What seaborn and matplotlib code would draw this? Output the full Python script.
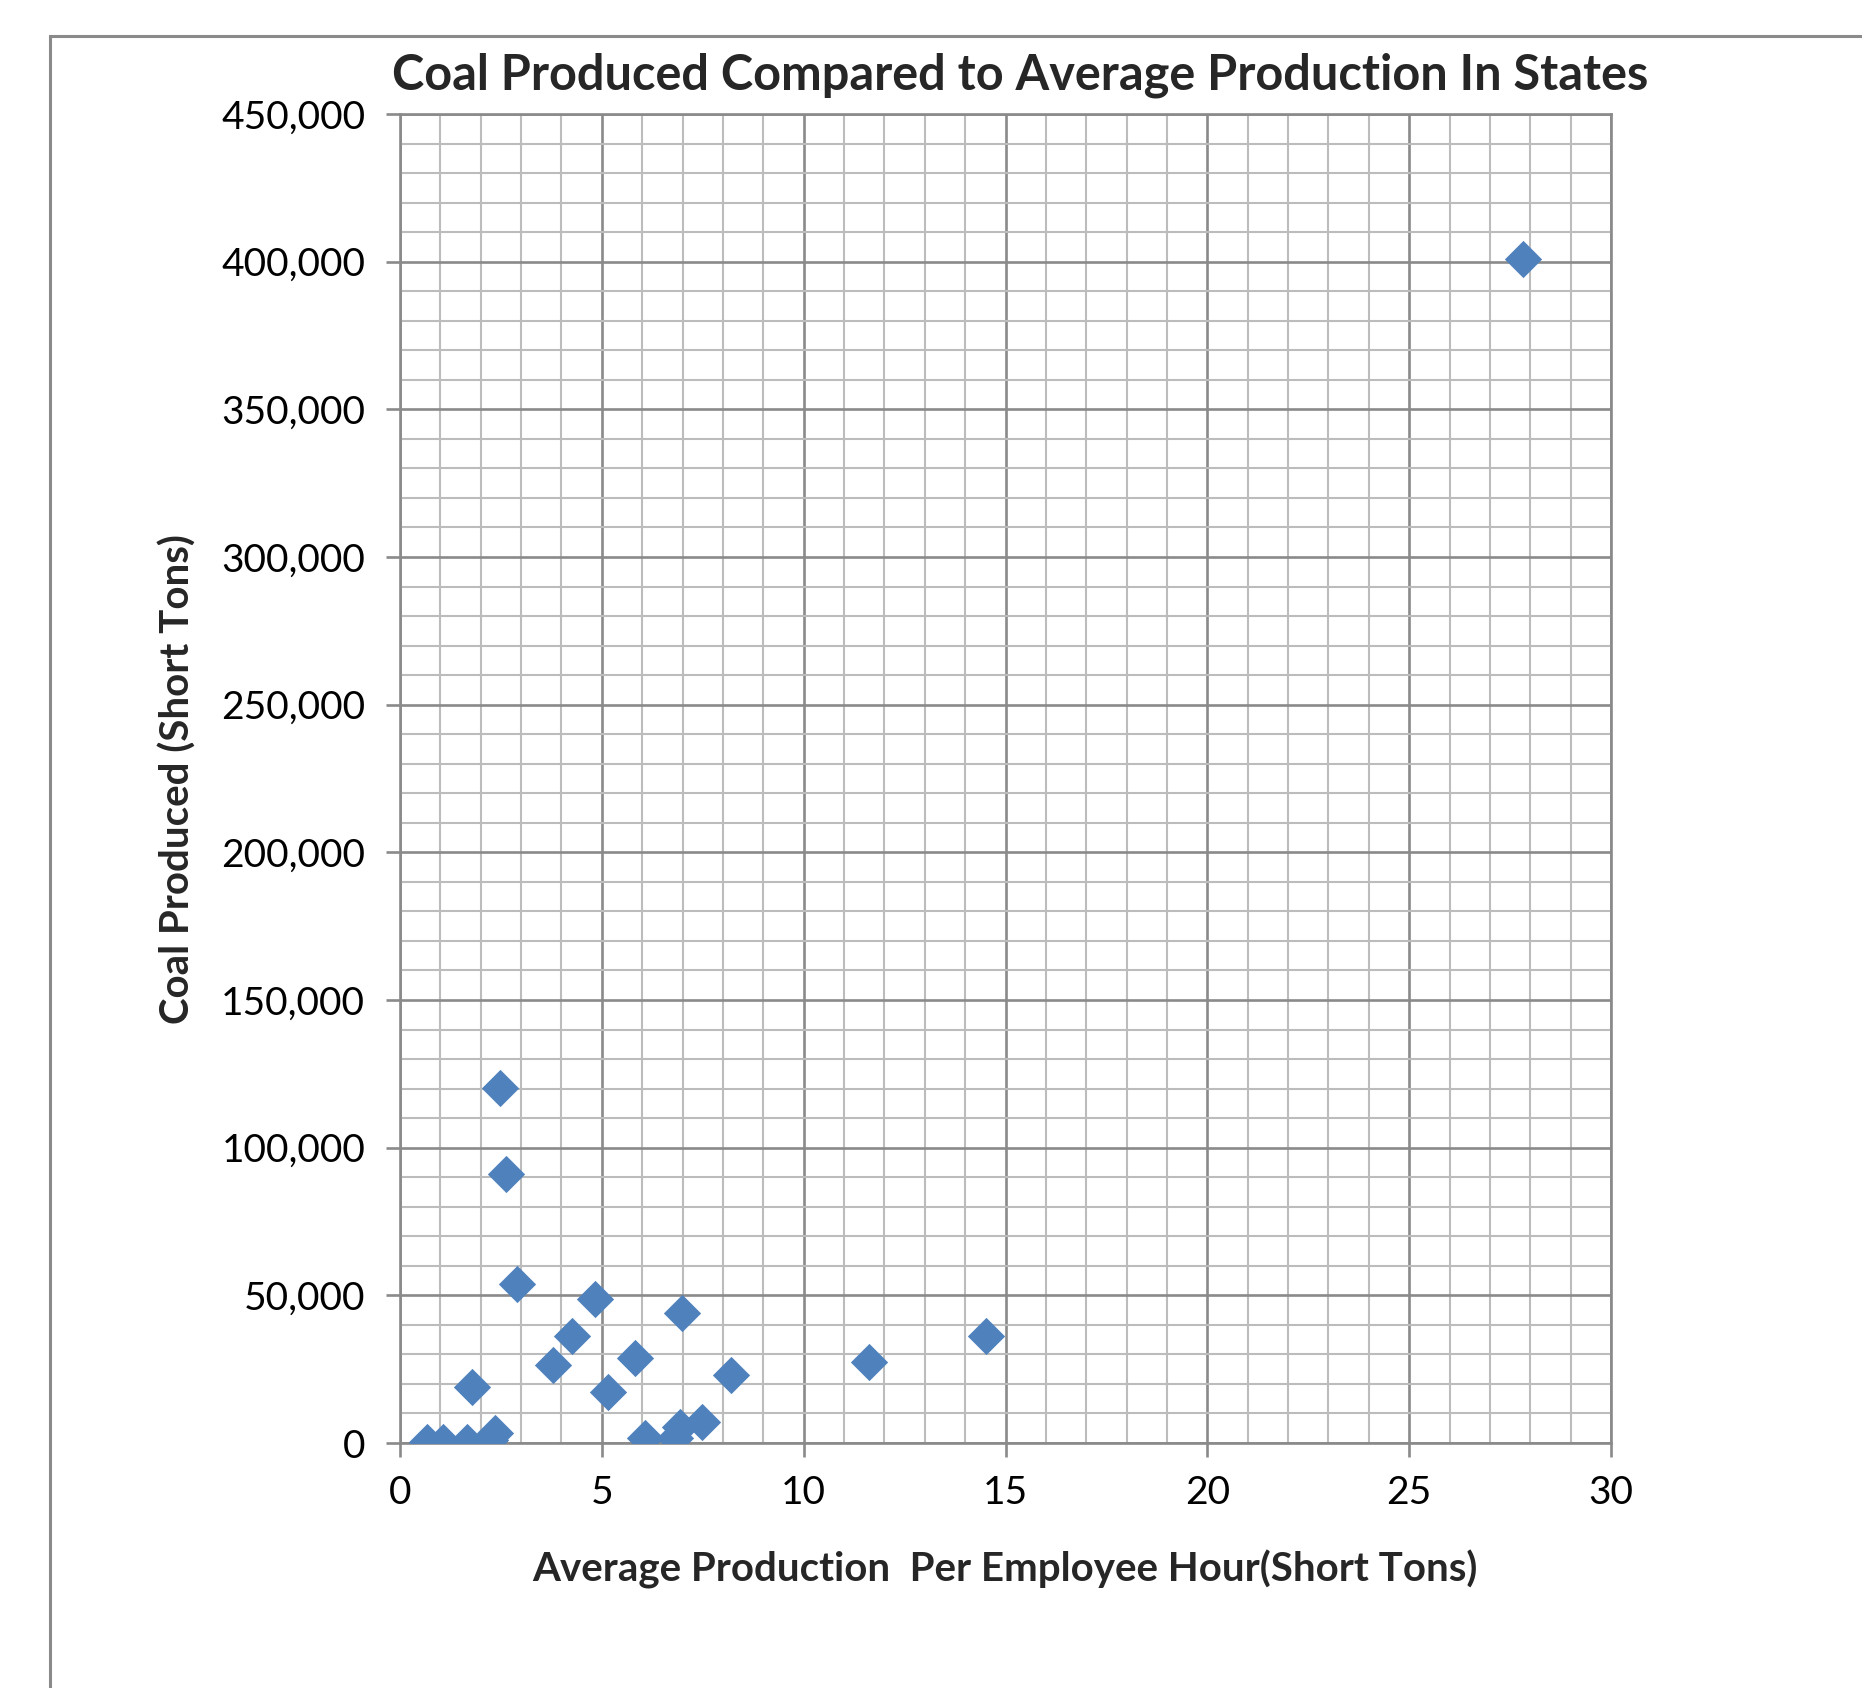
import matplotlib
matplotlib.use('Agg')
import pandas as pd
import matplotlib.pyplot as plt
from matplotlib.ticker import MultipleLocator, FuncFormatter
from matplotlib.patches import Rectangle
import seaborn as sns

# productia medie pe ora de angajat (short tons) si carbunele produs, pe state
productie_medie = [0.66, 1.07, 1.65, 1.78, 2.23, 2.35, 2.48, 2.63, 2.89, 3.78, 4.27, 4.83,
                   5.16, 5.82, 6.07, 6.81, 6.94, 6.98, 7.47, 8.20, 11.63, 14.51, 27.83]
carbune_produs = [400, 400, 400, 18800, 1000, 3300, 120200, 91000, 54000, 26400, 36300, 48600,
                  17400, 28700, 1600, 1600, 5500, 44100, 7200, 23000, 27500, 36200, 401000]

titlu = 'Coal Produced Compared to Average Production In States'
eticheta_x = 'Average Production  Per Employee Hour(Short Tons)'
eticheta_y = 'Coal Produced (Short Tons)'

df = pd.DataFrame({'productie': productie_medie, 'carbune': carbune_produs})

sns.set_style('white')
plt.rcParams['font.family'] = ['Lato', 'DejaVu Sans']

W, H = 1862, 1688
fig = plt.figure(figsize=(W / 100, H / 100), dpi=100)
ax = fig.add_axes([400 / W, 1 - 1443 / H, (1611 - 400) / W, (1443 - 114) / H])

sns.scatterplot(data=df, x='productie', y='carbune', marker='D', s=360,
                color='#4F81BD', linewidth=0, ax=ax, zorder=3)

ax.set_xlim(0, 30)
ax.set_ylim(0, 450000)
ax.xaxis.set_major_locator(MultipleLocator(5))
ax.xaxis.set_minor_locator(MultipleLocator(1))
ax.yaxis.set_major_locator(MultipleLocator(50000))
ax.yaxis.set_minor_locator(MultipleLocator(10000))
ax.yaxis.set_major_formatter(FuncFormatter(lambda v, p: f'{v:,.0f}'))

ax.set_axisbelow(True)
ax.grid(which='major', color='#8A8A8A', linewidth=1.9)
ax.grid(which='minor', color='#BCBCBC', linewidth=1.5)
for s in ax.spines.values():
    s.set_color('#8A8A8A')
    s.set_linewidth(1.9)

ax.tick_params(which='major', direction='out', length=10, width=1.9, color='#8A8A8A',
               labelsize=28, labelcolor='black', left=True, bottom=True)
ax.tick_params(axis='y', pad=15)
ax.tick_params(axis='x', pad=13)
ax.tick_params(which='minor', length=0)

ax.set_xlabel('')
ax.set_ylabel('')
fig.text(0.548, 1 - 75 / H, titlu, ha='center', va='center', fontsize=35, fontweight='bold')
fig.text(1005 / W, 1 - 1569 / H, eticheta_x, ha='center', va='center', fontsize=29, fontweight='bold')
fig.text(178 / W, 1 - 779 / H, eticheta_y, ha='center', va='center', rotation=90,
         fontsize=29, fontweight='bold')

# chenarul graficului (taiat in dreapta si jos)
fig.add_artist(Rectangle((50 / W, -0.1), 2, 1 - 36 / H + 0.1, transform=fig.transFigure,
                         fill=False, edgecolor='#8A8A8A', linewidth=2.2))

fig.savefig('out.png', dpi=100, facecolor='white')
